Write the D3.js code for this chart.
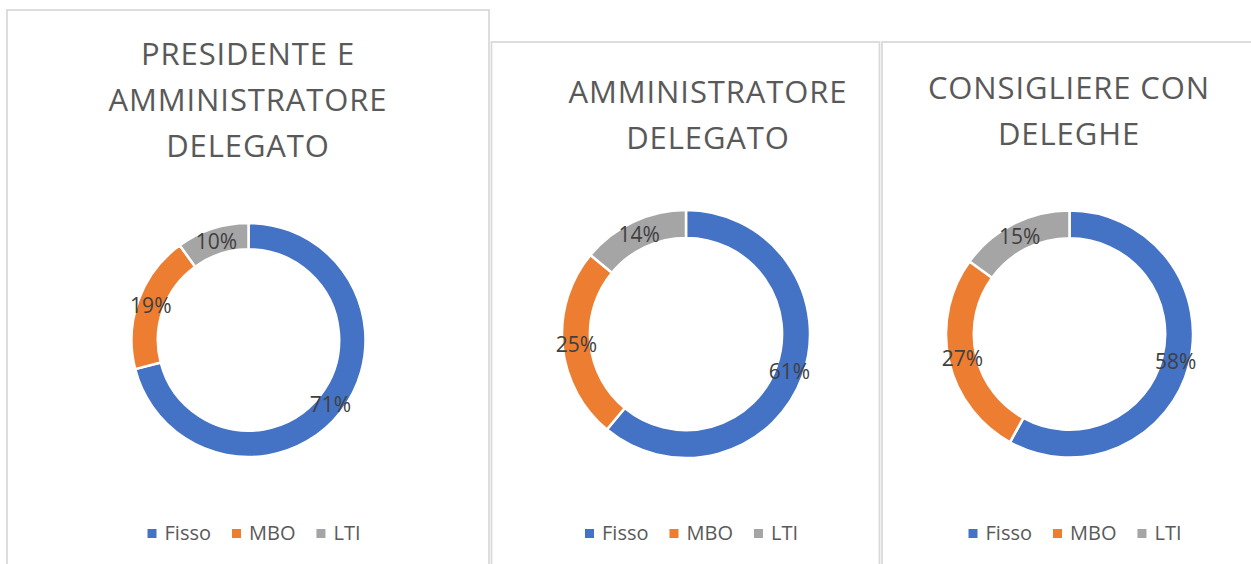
<!DOCTYPE html>
<html>

<head>
    <meta charset="utf-8">
    <script src="https://d3js.org/d3.v7.min.js"></script>
    <style type="text/css">
        body {
            margin: 0;
            background: #ffffff;
        }

        text {
            font-family: "Open Sans", sans-serif;
        }

        .title {
            font-size: 31px;
            letter-spacing: 0.9px;
            fill: #595959;
        }

        .legend {
            font-size: 20px;
            fill: #595959;
        }

        .label {
            font-size: 21px;
            fill: #404040;
        }
    </style>
</head>

<body>
    <div id="chart"></div>

    <script>
        // data
        const categories = ["Fisso", "MBO", "LTI"];
        const colors = ["#4472C4", "#ED7D31", "#A5A5A5"];

        const titles = [
            ["PRESIDENTE E", "AMMINISTRATORE", "DELEGATO"],
            ["AMMINISTRATORE", "DELEGATO"],
            ["CONSIGLIERE CON", "DELEGHE"]
        ];
        const valuesPresidente = [71, 19, 10];
        const valuesAmministratore = [61, 25, 14];
        const valuesConsigliere = [58, 27, 15];

        const series = [valuesPresidente, valuesAmministratore, valuesConsigliere];

        // layout of each panel (box, donut, title and legend positions)
        const layout = [
            { x: 7, y: 10, w: 482, cx: 248.5, cy: 340, r: 117, tx: 248, ty: 65, lx: 254 },
            { x: 491.5, y: 42, w: 388, cx: 686, cy: 334, r: 124, tx: 708, ty: 103, lx: 691.5 },
            { x: 882, y: 42, w: 400, cx: 1069.5, cy: 334, r: 123.5, tx: 1069, ty: 99, lx: 1075 }
        ];

        const W = 1251, H = 564;

        const svg = d3.select("#chart")
            .append("svg")
            .attr("width", W)
            .attr("height", H);

        const color = d3.scaleOrdinal().domain(categories).range(colors);

        const pie = d3.pie().sort(null).value(d => d.value);

        layout.forEach(function (p, i) {
            const g = svg.append("g");

            // panel border
            g.append("rect")
                .attr("x", p.x)
                .attr("y", p.y)
                .attr("width", p.w)
                .attr("height", H + 20)
                .attr("fill", "#ffffff")
                .attr("stroke", "#d9d9d9")
                .attr("stroke-width", 1.75);

            // title
            const lines = titles[i];
            g.selectAll(".title")
                .data(lines)
                .join("text")
                .attr("class", "title")
                .attr("text-anchor", "middle")
                .attr("x", p.tx)
                .attr("y", (d, k) => p.ty + k * 46)
                .text(d => d);

            // donut
            const data = categories.map((c, k) => ({ cat: c, value: series[i][k] }));
            const arc = d3.arc()
                .innerRadius(p.r * 0.775)
                .outerRadius(p.r);
            const labelArc = d3.arc()
                .innerRadius(p.r * 0.8875)
                .outerRadius(p.r * 0.8875);

            const donut = g.append("g")
                .attr("transform", `translate(${p.cx},${p.cy})`);

            const arcs = pie(data);

            donut.selectAll("path")
                .data(arcs)
                .join("path")
                .attr("d", arc)
                .attr("fill", d => color(d.data.cat))
                .attr("stroke", "#ffffff")
                .attr("stroke-width", 2.5);

            donut.selectAll(".label")
                .data(arcs)
                .join("text")
                .attr("class", "label")
                .attr("text-anchor", "middle")
                .attr("dominant-baseline", "central")
                .attr("transform", d => `translate(${labelArc.centroid(d)})`)
                .text(d => d.data.value + "%");

            // legend
            const leg = g.append("g");
            let xpos = 0;
            categories.forEach(function (c, k) {
                const item = leg.append("g").attr("transform", `translate(${xpos},0)`);
                item.append("rect")
                    .attr("x", 0)
                    .attr("y", -11)
                    .attr("width", 9)
                    .attr("height", 9)
                    .attr("fill", color(c));
                const t = item.append("text")
                    .attr("class", "legend")
                    .attr("x", 17)
                    .attr("y", 0)
                    .text(c);
                xpos += 17 + t.node().getComputedTextLength() + 21;
            });
            const legW = xpos - 21;
            leg.attr("transform", `translate(${p.lx - legW / 2},540)`);
        });
    </script>
</body>

</html>
